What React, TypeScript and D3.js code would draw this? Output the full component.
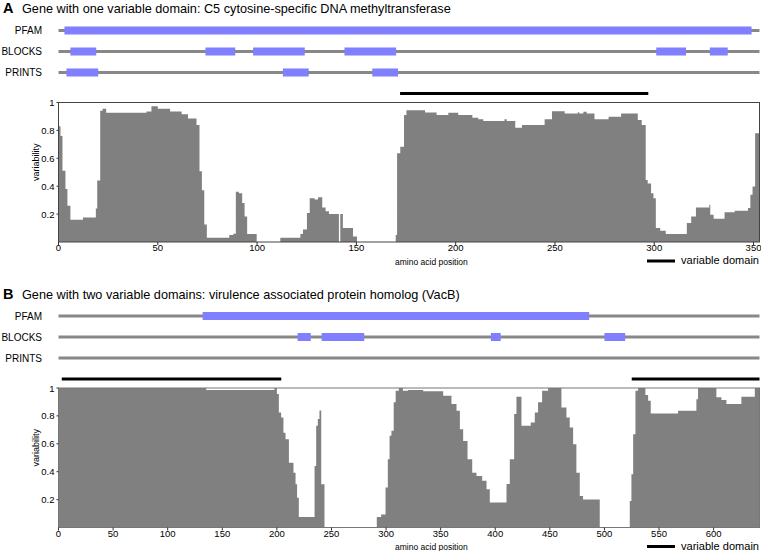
import React from "react";
import * as d3 from "d3";

// ---- panel A: C5 cytosine-specific DNA methyltransferase ----
const titleA = "Gene with one variable domain: C5 cytosine-specific DNA methyltransferase";
const lengthA = 353;
const ticksA = [0, 50, 100, 150, 200, 250, 300, 350];
const pfamA = [[3, 349]];
const blocksA = [[6, 19], [74, 89], [98, 124], [144, 170], [301, 316], [328, 337]];
const printsA = [[4, 20], [113, 126], [158, 171]];
const varDomainsA = [[172, 297]];
// step breakpoints: [amino acid position, variability]
const stepsA = [
  [0, 0.83], [1, 0.76], [2, 0.51], [3.5, 0.38], [4.5, 0.26], [6, 0.16], [12.3, 0.176],
  [18.8, 0.24], [19.5, 0.44], [21, 0.94], [22.2, 0.955], [24, 0.926], [44.3, 0.935],
  [46.8, 0.974], [50, 0.955], [56.2, 0.936], [62, 0.916], [65.2, 0.886], [69.5, 0.838],
  [71, 0.507], [72.2, 0.371], [73.4, 0.126], [74.7, 0.03], [86, 0.05], [88, 0.06],
  [89.3, 0.36], [90.8, 0.35], [92.5, 0.28], [93.7, 0.183], [95, 0.057], [99.8, 0],
  [111.7, 0.03], [121.8, 0.057], [123.1, 0.09], [125.1, 0.207], [126.5, 0.314],
  [129, 0.305], [130.7, 0.32], [132.8, 0.248], [134.5, 0.22], [136.2, 0.2], [141.2, 0],
  [141.9, 0.2], [143.2, 0.1], [148.3, 0.04], [150.3, 0], [169.8, 0.05], [170.5, 0.636],
  [172.1, 0.683], [174, 0.91], [175.2, 0.945], [184.6, 0.929], [190.4, 0.91],
  [196.3, 0.926], [201.3, 0.91], [208.4, 0.89], [211.4, 0.88], [213.9, 0.867],
  [224.6, 0.88], [225.7, 0.867], [230, 0.819], [233.4, 0.838], [244.8, 0.88],
  [248.5, 0.938], [254.9, 0.921], [261.5, 0.93], [262.2, 0.921], [264.3, 0.933],
  [266, 0.921], [269.9, 0.88], [277, 0.898], [283.3, 0.921], [291.7, 0.874],
  [293.7, 0.838], [295.7, 0.445], [296.7, 0.42], [298.4, 0.35], [299.6, 0.314],
  [300.8, 0.1], [303, 0.08], [305.8, 0.057], [316.4, 0.136], [318.6, 0.183],
  [321, 0.248], [327.7, 0.267], [328.2, 0.195], [329.9, 0.167], [335.4, 0.214],
  [340.5, 0.224], [347.2, 0.243], [348.4, 0.338], [349.5, 0.397], [350.8, 0.78],
];

// ---- panel B: virulence associated protein homolog (VacB) ----
const titleB = "Gene with two variable domains: virulence associated protein homolog (VacB)";
const lengthB = 642;
const ticksB = [0, 50, 100, 150, 200, 250, 300, 350, 400, 450, 500, 550, 600];
const pfamB = [[132, 486]];
const blocksB = [[219, 231], [241, 280], [396, 405], [500, 519]];
const printsB = [];
const varDomainsB = [[3, 204], [525, 642]];
const stepsB = [
  [0, 1.0], [135.3, 0.986], [197.8, 1.0], [200, 0.957], [201.8, 0.825], [203.9, 0.789],
  [206, 0.68], [207.9, 0.633], [211, 0.465], [215.2, 0.393], [217.1, 0.31], [218.5, 0.213],
  [220.1, 0.075], [234.5, 0.441], [236, 0.73], [237.5, 0.778], [239, 0.838], [240.6, 0.31],
  [243.6, 0], [291.5, 0.075], [295.5, 0.094], [299.5, 0.286], [301.6, 0.49],
  [303.2, 0.657], [304.9, 0.693], [307, 0.897], [308.8, 0.981], [311.7, 1.0],
  [315.4, 0.981], [320.2, 0.986], [334, 0.976], [352.3, 0.945], [359.9, 0.885],
  [364.5, 0.837], [367.6, 0.705], [370.6, 0.62], [374.6, 0.49], [378.9, 0.393],
  [382.8, 0.37], [388, 0.335], [392, 0.275], [395, 0.18], [410.3, 0.311], [413.3, 0.49],
  [417.3, 0.813], [419.4, 0.938], [424, 0.73], [432.5, 0.753], [436.2, 0.825],
  [439.2, 0.897], [442.9, 0.981], [448.4, 1.0], [460.6, 0.861], [465.2, 0.789],
  [468.2, 0.717], [471.3, 0.597], [474.3, 0.393], [477.4, 0.225], [480.4, 0.201],
  [495.7, 0], [523.2, 0.19], [524.7, 0.381], [526.3, 0.669], [528.4, 0.981],
  [530.8, 1.0], [537.5, 0.95], [540, 0.909], [542.4, 0.818], [567.4, 0.837],
  [584.2, 0.92], [585.7, 1.0], [602.5, 0.933], [607.1, 0.914], [611.7, 0.885],
  [625.4, 0.938], [637.7, 1.0],
];

const yTicks = [0.2, 0.4, 0.6, 0.8, 1];
const trackNames = ["PFAM", "BLOCKS", "PRINTS"];

const FONT = "'Liberation Sans', Arial, Helvetica, sans-serif";
const LEFT = 58.5;
const RIGHT = 759.5;

function Panel({ letter, title, length, ticks, tracks, varDomains, steps, top, frame }) {
  const x = d3.scaleLinear().domain([0, length]).range([LEFT, RIGHT]);
  const plotTop = top + 89.5;
  const plotBottom = top + 229;
  const y = d3.scaleLinear().domain([0, 1]).range([plotBottom, plotTop]);
  const trackY = [top + 17.5, top + 38.5, top + 59.5];
  const vdY = top + 80.5;

  const pts = [...steps, [length, steps[steps.length - 1][1]]];
  const area = d3
    .area()
    .curve(d3.curveStepAfter)
    .x((d) => x(d[0]))
    .y0(y(0))
    .y1((d) => y(d[1]));

  return (
    <g fontFamily={FONT}>
      <text x={3} y={top} fontSize={14.5} fontWeight="bold">{letter}</text>
      <text x={22} y={top} fontSize={12.7}>{title}</text>

      {tracks.map((feats, i) => (
        <g key={i}>
          <text x={42} y={trackY[i] + 3.5} fontSize={10} textAnchor="end">{trackNames[i]}</text>
          <line x1={x(0)} x2={x(length)} y1={trackY[i]} y2={trackY[i]} stroke="#888" strokeWidth={3} />
          {feats.map((f, j) => (
            <rect key={j} x={x(f[0])} y={trackY[i] - 4} width={x(f[1]) - x(f[0])} height={8} fill="#7f7fff" />
          ))}
        </g>
      ))}

      {varDomains.map((v, i) => (
        <line key={i} x1={x(v[0])} x2={x(v[1])} y1={vdY} y2={vdY} stroke="#000" strokeWidth={3} />
      ))}

      <path d={area(pts)} fill="#808080" />
      <rect x={LEFT} y={plotTop} width={RIGHT - LEFT} height={plotBottom - plotTop} fill="none" stroke={frame} strokeWidth={1} />

      {ticks.map((t) => (
        <g key={t}>
          <line x1={x(t)} x2={x(t)} y1={plotBottom} y2={plotBottom + 3} stroke="#333" />
          <text x={x(t)} y={plotBottom + 9} fontSize={9.5} textAnchor="middle">{t}</text>
        </g>
      ))}
      {yTicks.map((t) => (
        <g key={t}>
          <line x1={LEFT - 2} x2={LEFT} y1={y(t)} y2={y(t)} stroke="#333" />
          <text x={LEFT - 4} y={y(t) + 3.5} fontSize={9.5} textAnchor="end">{t}</text>
        </g>
      ))}
      <text transform={`translate(39,${(plotTop + plotBottom) / 2 - 10}) rotate(-90)`} fontSize={9} textAnchor="middle">variability</text>
      <text x={395} y={plotBottom + 22.5} fontSize={8.5}>amino acid position</text>
      <line x1={647} x2={675} y1={plotBottom + 19} y2={plotBottom + 19} stroke="#000" strokeWidth={3} />
      <text x={681} y={plotBottom + 22} fontSize={11} textLength={78} lengthAdjust="spacingAndGlyphs">variable domain</text>
    </g>
  );
}

export default function App() {
  return (
    <svg width={761} height={551} style={{ position: "absolute", left: 0, top: 0, background: "#fff" }}>
      <rect width={761} height={551} fill="#fff" />
      <Panel letter="A" title={titleA} length={lengthA} ticks={ticksA} tracks={[pfamA, blocksA, printsA]}
        varDomains={varDomainsA} steps={stepsA} top={13} frame="#444" />
      <Panel letter="B" title={titleB} length={lengthB} ticks={ticksB} tracks={[pfamB, blocksB, printsB]}
        varDomains={varDomainsB} steps={stepsB} top={298.5} frame="#777" />
    </svg>
  );
}
